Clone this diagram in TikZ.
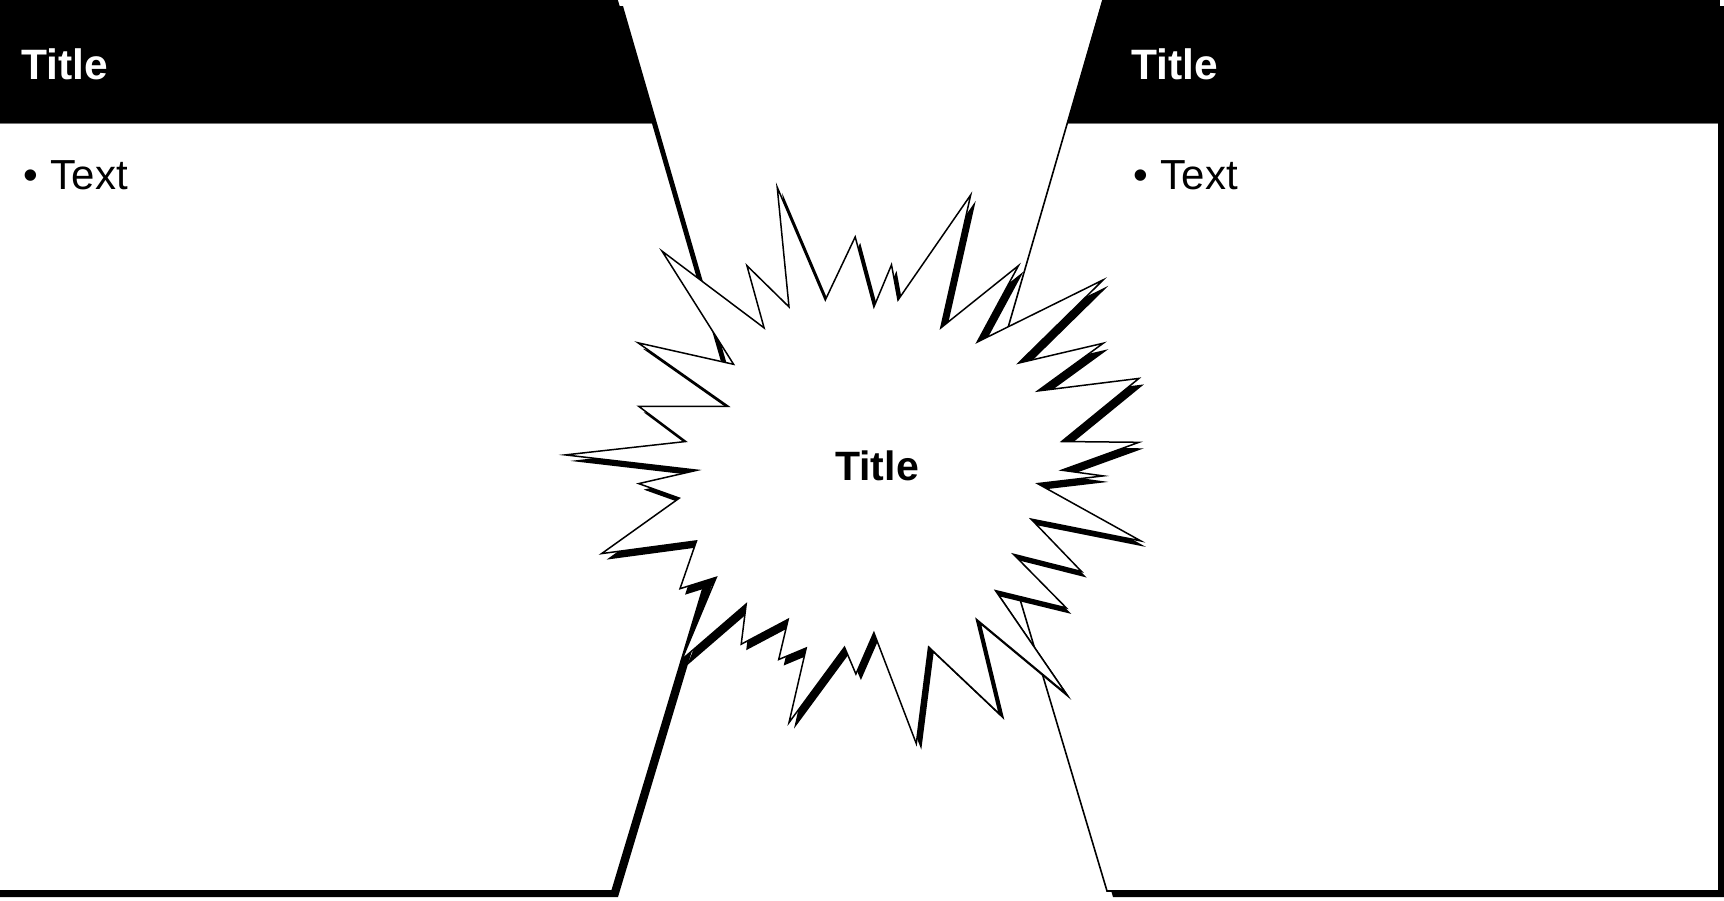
\documentclass[tikz,border=0pt]{standalone}
\usepackage{fontspec}
\setmainfont{Liberation Sans}
\begin{document}
\begin{tikzpicture}[x=1pt,y=-1pt,
  shadowfill/.style={fill=black},
  panelfill/.style={fill=white},
  paneledge/.style={draw=black,line width=1.6pt,line join=miter},
  headerfill/.style={fill=black},
  headerline/.style={draw=black!55,line width=1pt},
  headtitle/.style={text=white,font=\bfseries\fontsize{42.5}{48}\selectfont,anchor=base west,inner sep=0pt},
  bodytext/.style={text=black,font=\fontsize{42}{48}\selectfont,anchor=base west,inner sep=0pt},
  burst/.style={fill=white,draw=black,line width=1.5pt,line join=miter},
  bursttitle/.style={text=black,font=\bfseries\fontsize{41}{48}\selectfont,anchor=base,inner sep=0pt}]
\useasboundingbox (0,0) rectangle (1724,900);
\fill[white] (0,0) rectangle (1724,900);

% ---------- left panel ----------
\fill[shadowfill,shift={(6,6)}] (-10,0) -- (617,0) -- (746,445) -- (612,891) -- (-10,891) -- cycle;
\fill[panelfill] (-10,0) -- (617,0) -- (746,445) -- (612,891) -- (-10,891) -- cycle;
\fill[headerfill] (-10,-2) -- (617,-2) -- (652.7,123) -- (-10,123) -- cycle;
\draw[headerline] (-10,123.5) -- (652.8,123.5);
\draw[paneledge] (-10,0) -- (617,0) -- (746,445) -- (612,891) -- (-10,891) -- cycle;

% ---------- right panel ----------
\fill[shadowfill,shift={(6,6)}] (1103,0) -- (1719,0) -- (1719,891) -- (1107,891) -- (974,445) -- cycle;
\fill[panelfill] (1103,0) -- (1719,0) -- (1719,891) -- (1107,891) -- (974,445) -- cycle;
\fill[headerfill] (1103,-2) -- (1719,-2) -- (1719,123) -- (1067.3,123) -- cycle;
\draw[headerline] (1067.2,123.5) -- (1719,123.5);
\draw[paneledge] (1103,0) -- (1719,0) -- (1719,891) -- (1107,891) -- (974,445) -- cycle;

% ---------- panel texts ----------
\node[headtitle] (lefttitle) at (21.5,79.3) {Title};
\node[bodytext] (lefttext) at (23,189.3) {•\hspace{13pt}Text};
\node[headtitle] (righttitle) at (1131.5,79.3) {Title};
\node[bodytext] (righttext) at (1133,189.3) {•\hspace{13pt}Text};

% ---------- starburst ----------
\def\burstpath{(777.2,187.2) -- (825.3,300.0) -- (855.2,236.9) -- (873.9,306.9) -- (891.5,264.8) -- (898.0,300.0) -- (970.7,194.9) -- (940.8,327.9) -- (1018.5,265.6) -- (977.2,342.1) -- (1103.3,279.8) -- (1018.5,363.1) -- (1103.3,343.2) -- (1037.6,391.0) -- (1138.9,378.4) -- (1061.7,441.5) -- (1138.9,442.3) -- (1061.7,470.2) -- (1103.3,475.9) -- (1037.6,483.6) -- (1140.8,540.9) -- (1031.1,519.1) -- (1081.5,571.5) -- (1013.5,554.3) -- (1066.3,607.9) -- (995.5,590.6) -- (1066.3,693.9) -- (976.4,619.3) -- (999.3,713.8) -- (928.6,646.9) -- (916.3,743.6) -- (873.9,632.7) -- (855.9,674.0) -- (844.5,647.2) -- (789.0,722.6) -- (806.2,648.0) -- (778.7,659.5) -- (788.2,619.3) -- (741.2,644.2) -- (746.2,604.0) -- (681.9,659.5) -- (716.3,577.3) -- (680.0,588.7) -- (696.5,540.9) -- (601.6,553.6) -- (679.3,498.1) -- (638.7,483.6) -- (697.2,470.2) -- (565.3,454.9) -- (685.8,441.5) -- (638.7,406.3) -- (728.2,406.3) -- (638.0,342.8) -- (733.6,364.3) -- (662.0,251.1) -- (764.1,327.9) -- (746.9,265.6) -- (789.0,306.9) -- cycle}
\fill[shadowfill,shift={(5,6)}] \burstpath;
\filldraw[burst] \burstpath;
\node[bursttitle] (bursttext) at (877,480) {Title};
\end{tikzpicture}
\end{document}
